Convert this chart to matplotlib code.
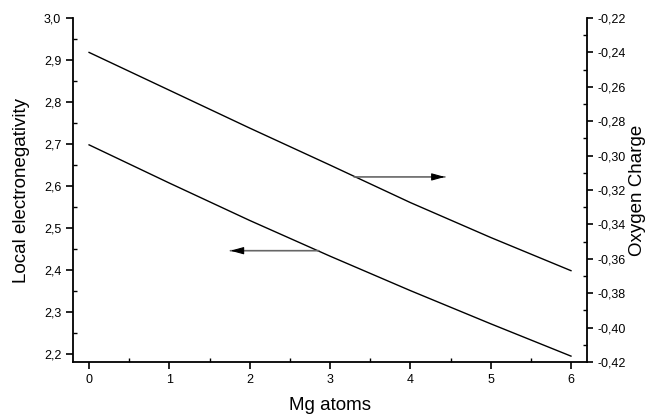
import matplotlib
matplotlib.use("Agg")
import matplotlib.pyplot as plt
from matplotlib.ticker import MultipleLocator, FuncFormatter

# data
mg_atoms = [0, 1, 2, 3, 4, 5, 6]
local_en = [2.698, 2.607, 2.518, 2.433, 2.351, 2.272, 2.195]
oxygen_charge = [-0.240, -0.262, -0.284, -0.3055, -0.3273, -0.3476, -0.3669]

plt.rcParams["font.family"] = ["Liberation Sans", "DejaVu Sans"]

fig = plt.figure(figsize=(6.53, 4.17), dpi=100)
ax = fig.add_axes([0.1118, 0.1319, 0.899 - 0.1118, 0.9568 - 0.1319])
ax2 = ax.twinx()

ax.plot(mg_atoms, local_en, color="black", lw=1.0)
ax2.plot(mg_atoms, oxygen_charge, color="black", lw=1.0)

ax.set_xlim(-0.2, 6.2)
ax.set_ylim(2.181, 3.0)
ax2.set_ylim(-0.42, -0.22)


def draw_arrow(a, tail, tip):
    # grey shaft, black head
    shaft = dict(arrowstyle="-", color="0.4", lw=1.2, shrinkA=0, shrinkB=0)
    head = dict(arrowstyle="-|>,head_length=0.8,head_width=0.22", color="black",
                lw=0.8, shrinkA=0, shrinkB=0)
    a.annotate("", xy=tip, xytext=tail, arrowprops=shaft)
    step = 0.08 if tip[0] > tail[0] else -0.08
    a.annotate("", xy=tip, xytext=(tip[0] - step, tip[1]), arrowprops=head)


draw_arrow(ax, (2.86, 2.446), (1.76, 2.446))
draw_arrow(ax2, (3.3, -0.3124), (4.43, -0.3124))

for a in (ax, ax2):
    a.spines["top"].set_visible(False)
    for s in a.spines.values():
        s.set_linewidth(1.3)
ax.spines["right"].set_visible(False)
ax2.spines["left"].set_visible(False)
ax2.spines["bottom"].set_visible(False)

ax.xaxis.set_major_locator(MultipleLocator(1))
ax.xaxis.set_minor_locator(MultipleLocator(0.5))
ax.yaxis.set_major_locator(MultipleLocator(0.1))
ax.yaxis.set_minor_locator(MultipleLocator(0.05))
ax2.yaxis.set_major_locator(MultipleLocator(0.02))
ax2.yaxis.set_minor_locator(MultipleLocator(0.01))

ax.yaxis.set_major_formatter(FuncFormatter(lambda v, p: f"{v:.1f}".replace(".", ",")))
ax2.yaxis.set_major_formatter(FuncFormatter(lambda v, p: f"{v:.2f}".replace(".", ",")))

ax.tick_params(which="major", direction="out", length=5, width=1.2, labelsize=9)
ax.tick_params(which="minor", direction="in", length=3, width=1.0)
ax2.tick_params(which="major", direction="out", length=4, width=1.2, labelsize=9)
ax2.tick_params(which="minor", direction="in", length=3, width=1.0)

ax.set_xlabel("Mg atoms", fontsize=13.5, labelpad=8)
ax.set_ylabel("Local electronegativity", fontsize=13.5, labelpad=10)
ax2.set_ylabel("Oxygen Charge", fontsize=13.5, labelpad=2)

fig.savefig("out.png", dpi=100)
